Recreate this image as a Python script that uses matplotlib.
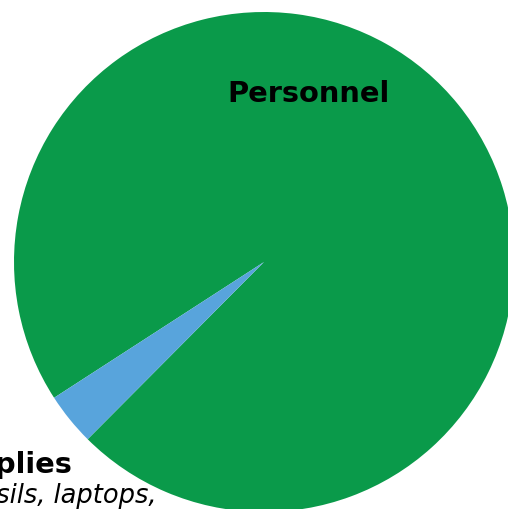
import matplotlib
matplotlib.use("Agg")
import matplotlib.pyplot as plt

categories = ["Personnel", "Supplies"]
values = [96.6, 3.4]
colors = ["#0a9a4a", "#58a4dc"]
supplies_note = "Utensils, laptops,"

W, H = 508, 510
fig = plt.figure(figsize=(W / 100, H / 100), dpi=100)
cx, cy, r = 264, 263, 250
ax = fig.add_axes([(cx - r) / W, (H - cy - r) / H, 2 * r / W, 2 * r / H])

wedges, _ = ax.pie(values, colors=colors, startangle=212.9, counterclock=False,
                   radius=1, wedgeprops=dict(linewidth=0))
ax.set_xlim(-1, 1)
ax.set_ylim(-1, 1)
ax.axis("off")
for w in wedges:
    w.set_zorder(2)
    w.set_clip_on(False)

def px(x, y):
    return ((x - cx) / r, (cy - y) / r)

ax.text(*px(309, 94), categories[0], ha="center", va="center", fontsize=20.8,
        fontweight="bold", family="DejaVu Sans", zorder=3)
ax.text(*px(-66, 465), categories[1], ha="left", va="center", fontsize=20.8,
        fontweight="bold", family="DejaVu Sans", zorder=1, clip_on=False)
ax.text(*px(-65, 496), supplies_note, ha="left", va="center", fontsize=18.5,
        style="italic", family="DejaVu Sans", zorder=1, clip_on=False)

fig.savefig("out.png", dpi=100)
